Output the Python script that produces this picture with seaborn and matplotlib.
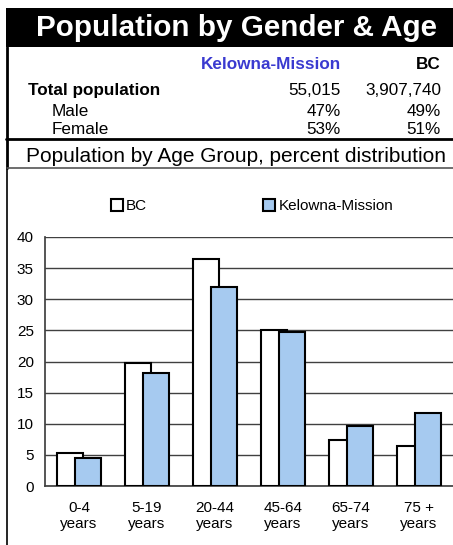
import pandas as pd
import seaborn as sns
import matplotlib.pyplot as plt
from matplotlib.patches import Rectangle
from matplotlib.lines import Line2D

age_groups = ["0-4\nyears", "5-19\nyears", "20-44\nyears", "45-64\nyears", "65-74\nyears", "75 +\nyears"]
bc_pct = [5.3, 19.7, 36.4, 25.1, 7.4, 6.4]
kelowna_pct = [4.5, 18.2, 32.0, 24.7, 9.7, 11.8]

series_names = ["BC", "Kelowna-Mission"]
row_labels = ["Total population", "Male", "Female"]
kelowna_summary = ["55,015", "47%", "53%"]
bc_summary = ["3,907,740", "49%", "51%"]

W, H = 453, 545

df = pd.DataFrame({
    "age": age_groups * 2,
    "pct": bc_pct + kelowna_pct,
    "area": [series_names[0]] * len(age_groups) + [series_names[1]] * len(age_groups),
})

sns.set_theme(style="white")
plt.rcParams["font.family"] = ["Liberation Sans", "DejaVu Sans"]
plt.rcParams["text.color"] = "black"

fig = plt.figure(figsize=(W / 100, H / 100), dpi=100)
fig.patch.set_facecolor("white")


def fx(px):
    return px / W


def fy(py):
    return 1 - py / H


# header block
fig.add_artist(Rectangle((fx(6), fy(47)), fx(W - 6), 39 / H, transform=fig.transFigure,
                         facecolor="black", edgecolor="none"))
fig.text(fx(236), fy(28), "Population by Gender & Age", color="white", fontsize=21.3,
         fontweight="bold", ha="center", va="center")

# frame lines
fig.add_artist(Line2D([fx(7), fx(7)], [fy(47), fy(168)], color="black", lw=2))
fig.add_artist(Line2D([fx(7), fx(7)], [fy(168), 0], color="black", lw=1.2))
fig.add_artist(Line2D([fx(6), 1], [fy(138.5), fy(138.5)], color="black", lw=2))
fig.add_artist(Line2D([fx(7), 1], [fy(168), fy(168)], color="#555555", lw=1.2))

# summary table
fig.text(fx(341), fy(69), series_names[1], color="#3a3ad0", fontsize=12.3, fontweight="bold",
         ha="right", va="baseline")
fig.text(fx(441), fy(69), series_names[0], color="black", fontsize=12.3, fontweight="bold",
         ha="right", va="baseline")
row_y = [95, 116, 134]
row_x = [28, 52, 52]
for i, label in enumerate(row_labels):
    fig.text(fx(row_x[i]), fy(row_y[i]), label, fontsize=12.3,
             fontweight="bold" if i == 0 else "normal", ha="left", va="baseline")
    fig.text(fx(341), fy(row_y[i]), kelowna_summary[i], fontsize=12.3, ha="right", va="baseline")
    fig.text(fx(441), fy(row_y[i]), bc_summary[i], fontsize=12.3, ha="right", va="baseline")

fig.text(fx(235.5), fy(162), "Population by Age Group, percent distribution", fontsize=15,
         ha="center", va="baseline")

# bar chart
ax = fig.add_axes([fx(45), fy(486), fx(W - 45), (486 - 237) / H])
sns.barplot(data=df, x="age", y="pct", hue="area", palette=["white", "#a6caf0"],
            width=0.76, edgecolor="black", linewidth=1.5, saturation=1, ax=ax, zorder=3)

# pull the two bars of a group together so they overlap a little
n = len(age_groups)
for i, bar in enumerate(ax.patches[:2 * n]):
    shift = 0.055 if i < n else -0.055
    bar.set_x(bar.get_x() + shift)
for bar in ax.patches[n:2 * n]:
    bar.set_zorder(4)

ax.set_ylim(0, 40)
ax.set_yticks(range(0, 41, 5))
ax.set_xlim(-0.5, n - 0.5)
ax.yaxis.grid(True, color="#404040", lw=1)
ax.set_axisbelow(True)
ax.tick_params(axis="both", length=0, labelsize=11, colors="black")
ax.tick_params(axis="x", pad=11)
ax.tick_params(axis="y", pad=8)
ax.set_xlabel("")
ax.set_ylabel("")
for side in ["top", "right"]:
    ax.spines[side].set_visible(False)
ax.spines["left"].set_color("#404040")
ax.spines["bottom"].set_color("#404040")

handles, labels = ax.get_legend_handles_labels()
ax.legend(handles, labels, loc="center", bbox_to_anchor=(fx(252), fy(206)),
          bbox_transform=fig.transFigure, ncol=2, frameon=False, fontsize=11,
          handlelength=0.8, handleheight=0.8, handletextpad=0.2, columnspacing=7.6)

fig.savefig("out.png", dpi=100)
